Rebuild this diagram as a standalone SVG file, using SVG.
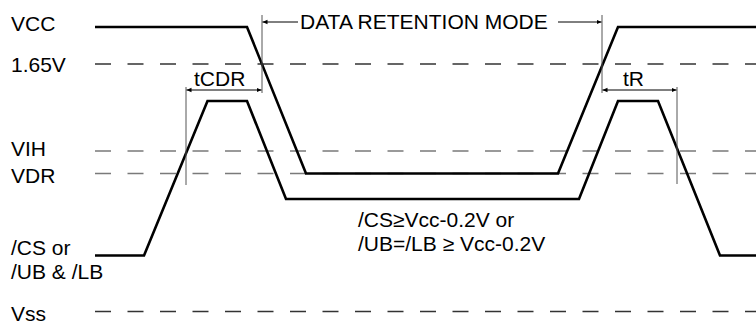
<svg xmlns="http://www.w3.org/2000/svg" width="756" height="324" viewBox="0 0 756 324">
<style>
text{font-family:"Liberation Sans",Arial,sans-serif;font-size:21px;fill:#000}
.sig{fill:none;stroke:#000;stroke-width:2.6;stroke-linejoin:miter}
.dk{stroke:#333;stroke-width:1.3;stroke-dasharray:16 16.5;fill:none}
.gy{stroke:#7a7a7a;stroke-width:1.6;stroke-dasharray:16 16.5;fill:none}
.mk{stroke:#555;stroke-width:1;fill:none}
.ar{stroke:#000;stroke-width:1;fill:none}
</style>
<defs>
<marker id="ah" markerWidth="6" markerHeight="6" refX="5" refY="3" orient="auto" markerUnits="userSpaceOnUse">
<path d="M0,0.8 L5,3 L0,5.2 Z" fill="#000"/>
</marker>
</defs>
<g id="levels">
<line class="dk" x1="95" y1="64" x2="756" y2="64"/>
<line class="gy" x1="95" y1="151" x2="756" y2="151"/>
<line class="gy" x1="95" y1="173.5" x2="756" y2="173.5"/>
<line class="dk" x1="95" y1="311.5" x2="756" y2="311.5"/>
</g>
<g id="labels">
<text x="11" y="31">VCC</text>
<text x="11" y="72">1.65V</text>
<text x="11" y="156">VIH</text>
<text x="11" y="183">VDR</text>
<text x="11" y="255">/CS or</text>
<text x="11" y="279">/UB &amp; /LB</text>
<text x="11" y="321">Vss</text>
</g>
<g id="vcc">
<polyline class="sig" points="95,27 247,27 306,173.5 558,173.5 618,27 756,27"/>
</g>
<g id="cs">
<polyline class="sig" points="95,255.5 144,255.5 207.5,101 247,101 286,199 579,199 618,101 658,101 720,255.5 756,255.5"/>
</g>
<g id="connectors">
<line class="mk" x1="262" y1="15" x2="262" y2="93"/>
<line class="mk" x1="602" y1="15" x2="602" y2="93"/>
<line class="mk" x1="186" y1="87" x2="186" y2="185"/>
<line class="mk" x1="677" y1="87" x2="677" y2="184"/>
<line class="ar" x1="298" y1="22" x2="262.5" y2="22" marker-end="url(#ah)"/>
<line class="ar" x1="558" y1="22" x2="601.5" y2="22" marker-end="url(#ah)"/>
<line class="ar" x1="224" y1="90" x2="186.5" y2="90" marker-end="url(#ah)"/>
<line class="ar" x1="224" y1="90" x2="261.5" y2="90" marker-end="url(#ah)"/>
<line class="ar" x1="640" y1="90" x2="602.5" y2="90" marker-end="url(#ah)"/>
<line class="ar" x1="640" y1="90" x2="676.5" y2="90" marker-end="url(#ah)"/>
</g>
<g id="annotations">
<text x="300" y="28.5">DATA RETENTION MODE</text>
<text x="194" y="86">tCDR</text>
<text x="623" y="86">tR</text>
<text x="358" y="227">/CS≥Vcc-0.2V or</text>
<text x="358" y="251">/UB=/LB ≥ Vcc-0.2V</text>
</g>
</svg>
